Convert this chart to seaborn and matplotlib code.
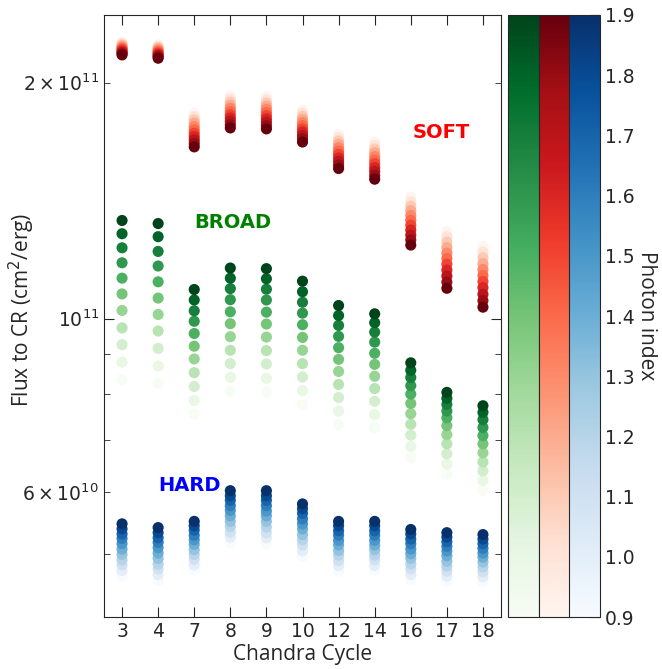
import matplotlib
matplotlib.use('Agg')
import matplotlib.pyplot as plt
import matplotlib.colors as mcolors
import pandas as pd
import seaborn as sns

# Chandra cycles on the x axis and photon index used for colour
cycles = ['3', '4', '7', '8', '9', '10', '12', '14', '16', '17', '18']
photon_index = [0.9, 1.0, 1.1, 1.2, 1.3, 1.4, 1.5, 1.6, 1.7, 1.8, 1.9]

# Flux to CR per cycle, values for photon index 0.9 -> 1.9
# soft in units of 1e11
soft = [
    [2.253, 2.245, 2.236, 2.228, 2.219, 2.211, 2.203, 2.194, 2.186, 2.178, 2.170],
    [2.235, 2.226, 2.218, 2.209, 2.200, 2.192, 2.183, 2.175, 2.166, 2.158, 2.149],
    [1.827, 1.810, 1.793, 1.776, 1.758, 1.741, 1.724, 1.707, 1.690, 1.673, 1.656],
    [1.924, 1.907, 1.889, 1.872, 1.855, 1.838, 1.820, 1.803, 1.786, 1.768, 1.751],
    [1.919, 1.902, 1.884, 1.867, 1.850, 1.833, 1.815, 1.798, 1.781, 1.763, 1.746],
    [1.845, 1.829, 1.812, 1.796, 1.779, 1.763, 1.746, 1.730, 1.713, 1.697, 1.680],
    [1.718, 1.702, 1.685, 1.669, 1.652, 1.636, 1.620, 1.603, 1.587, 1.570, 1.554],
    [1.680, 1.663, 1.645, 1.628, 1.610, 1.593, 1.576, 1.558, 1.541, 1.523, 1.506],
    [1.429, 1.410, 1.391, 1.373, 1.354, 1.335, 1.316, 1.297, 1.278, 1.260, 1.241],
    [1.292, 1.272, 1.252, 1.232, 1.212, 1.193, 1.173, 1.153, 1.133, 1.113, 1.093],
    [1.236, 1.216, 1.196, 1.175, 1.155, 1.135, 1.115, 1.095, 1.074, 1.054, 1.034],
]
# broad in units of 1e10
broad = [
    [8.36, 8.80, 9.26, 9.73, 10.24, 10.75, 11.26, 11.78, 12.31, 12.83, 13.34],
    [8.27, 8.70, 9.16, 9.64, 10.12, 10.62, 11.14, 11.67, 12.18, 12.72, 13.22],
    [7.55, 7.86, 8.19, 8.53, 8.88, 9.22, 9.57, 9.92, 10.23, 10.56, 10.89],
    [8.07, 8.41, 8.76, 9.11, 9.48, 9.85, 10.20, 10.57, 10.92, 11.26, 11.60],
    [8.06, 8.39, 8.75, 9.10, 9.47, 9.84, 10.19, 10.56, 10.90, 11.24, 11.58],
    [7.76, 8.09, 8.42, 8.76, 9.11, 9.46, 9.82, 10.16, 10.49, 10.82, 11.16],
    [7.32, 7.62, 7.93, 8.24, 8.56, 8.87, 9.18, 9.49, 9.80, 10.09, 10.39],
    [7.26, 7.54, 7.84, 8.14, 8.44, 8.74, 9.03, 9.33, 9.61, 9.88, 10.14],
    [6.64, 6.87, 7.10, 7.33, 7.56, 7.79, 8.01, 8.21, 8.41, 8.59, 8.78],
    [6.33, 6.52, 6.72, 6.92, 7.11, 7.30, 7.47, 7.62, 7.77, 7.91, 8.05],
    [6.03, 6.21, 6.39, 6.56, 6.74, 6.92, 7.09, 7.26, 7.43, 7.59, 7.74],
]
# hard in units of 1e10
hard = [
    [4.69, 4.77, 4.85, 4.92, 5.00, 5.08, 5.16, 5.24, 5.31, 5.39, 5.47],
    [4.63, 4.71, 4.79, 4.86, 4.94, 5.02, 5.10, 5.18, 5.25, 5.33, 5.41],
    [4.78, 4.85, 4.93, 5.00, 5.07, 5.15, 5.22, 5.29, 5.37, 5.44, 5.51],
    [5.17, 5.26, 5.34, 5.43, 5.51, 5.60, 5.69, 5.77, 5.86, 5.94, 6.03],
    [5.16, 5.25, 5.33, 5.42, 5.51, 5.60, 5.68, 5.77, 5.86, 5.94, 6.03],
    [4.97, 5.05, 5.14, 5.22, 5.30, 5.39, 5.47, 5.55, 5.64, 5.72, 5.80],
    [4.76, 4.84, 4.91, 4.99, 5.06, 5.14, 5.21, 5.29, 5.36, 5.44, 5.51],
    [4.77, 4.84, 4.92, 4.99, 5.07, 5.14, 5.21, 5.29, 5.36, 5.44, 5.51],
    [4.64, 4.71, 4.79, 4.86, 4.94, 5.01, 5.08, 5.16, 5.23, 5.31, 5.38],
    [4.62, 4.69, 4.76, 4.83, 4.90, 4.98, 5.05, 5.12, 5.19, 5.26, 5.33],
    [4.61, 4.68, 4.75, 4.82, 4.89, 4.96, 5.02, 5.09, 5.16, 5.23, 5.30],
]

# build one long table
rows = []
for band, table, unit in [('soft', soft, 1e11), ('broad', broad, 1e10), ('hard', hard, 1e10)]:
    for i, cyc in enumerate(cycles):
        for j, g in enumerate(photon_index):
            rows.append({'band': band, 'pos': i, 'cycle': cyc,
                         'gamma': g, 'flux': table[i][j] * unit})
df = pd.DataFrame(rows)

sns.set_style('ticks')
plt.rcParams['font.family'] = ['DejaVu Sans']

fig = plt.figure(figsize=(6.62, 6.69), dpi=100)
ax = fig.add_axes([104/662, 1 - 617/669, 397/662, 602/669])

cmaps = {'broad': 'Greens', 'soft': 'Reds', 'hard': 'Blues'}
for band in ['broad', 'soft', 'hard']:
    sns.scatterplot(
        data=df[df['band'] == band],
        x='pos',
        y='flux',
        hue='gamma',
        palette=cmaps[band],
        hue_norm=(0.9, 1.9),
        s=64,
        linewidth=0,
        legend=False,
        ax=ax
    )

ax.set_yscale('log')
ax.set_ylim(4.16e10, 2.44e11)
ax.set_xlim(-0.5, 10.5)
ax.set_xticks(range(len(cycles)))
ax.set_xticklabels(cycles)
ax.tick_params(which='both', direction='in', top=True, right=True, labelsize=13.5)
ax.tick_params(which='major', length=7)
ax.tick_params(which='minor', length=4.5)
ax.set_xlabel('Chandra Cycle', fontsize=15, family='Open Sans', labelpad=2)
ax.set_ylabel('Flux to CR (cm$^2$/erg)', fontsize=15, family='Open Sans')
# label sits left of the tick labels like in the original
ax.yaxis.set_label_coords(-0.168, 0.51)

ax.text(8.84, 1.729e11, 'SOFT', color='red', fontsize=14, fontweight='bold', ha='center', va='center')
ax.text(3.07, 1.326e11, 'BROAD', color='green', fontsize=14, fontweight='bold', ha='center', va='center')
ax.text(1.88, 6.12e10, 'HARD', color='blue', fontsize=14, fontweight='bold', ha='center', va='center')

# three colorbars side by side
norm = mcolors.Normalize(vmin=0.9, vmax=1.9)
lefts = [508, 539, 569]
for k, name in enumerate(['Greens', 'Reds', 'Blues']):
    cax = fig.add_axes([lefts[k]/662, 1 - 617/669, 31/662, 602/669])
    sm = plt.cm.ScalarMappable(norm=norm, cmap=name)
    if k < 2:
        fig.colorbar(sm, cax=cax, ticks=[])
    else:
        cb = fig.colorbar(sm, cax=cax, ticks=photon_index)
        cb.ax.tick_params(direction='in', length=7, labelsize=13.5)
        cb.set_label('Photon index', rotation=270, fontsize=15, family='Open Sans', labelpad=16)

fig.savefig('out.png', dpi=100)
